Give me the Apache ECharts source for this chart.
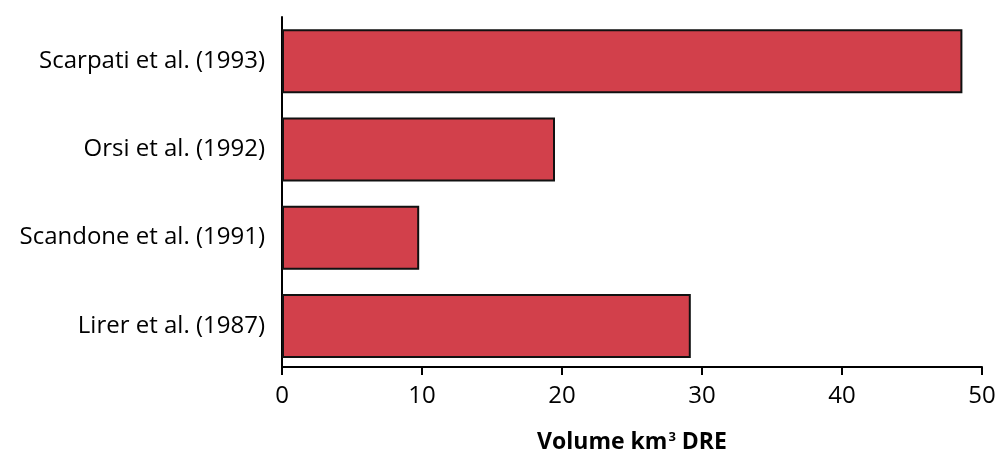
<!DOCTYPE html>
<html>
<head>
<meta charset="utf-8">
<script src="https://cdn.jsdelivr.net/npm/echarts@6/dist/echarts.min.js"></script>
<style>
  html, body { margin: 0; padding: 0; background: #fff; }
  #chart { width: 1003px; height: 459px; }
</style>
</head>
<body>
<div id="chart"></div>
<script>
// Published estimates of the eruption volume (km³ DRE), bottom to top
const studies = ['Lirer et al. (1987)', 'Scandone et al. (1991)', 'Orsi et al. (1992)', 'Scarpati et al. (1993)'];
const volumes = [29.2, 9.8, 19.5, 48.6];
const xTicks = [0, 10, 20, 30, 40, 50];

const FONT = '"Open Sans", "Noto Sans", sans-serif';
const chart = echarts.init(document.getElementById('chart'));

chart.setOption({
  animation: false,
  grid: { left: 282, right: 21, top: 17, height: 353 },
  xAxis: {
    type: 'value',
    min: xTicks[0],
    max: xTicks[xTicks.length - 1],
    interval: xTicks[1] - xTicks[0],
    offset: -3,
    splitLine: { show: false },
    axisLine: { show: true, lineStyle: { color: '#000', width: 2 } },
    axisTick: { show: true, length: 8, lineStyle: { color: '#000', width: 2 } },
    axisLabel: { color: '#000', fontSize: 24, fontFamily: FONT, margin: 17 },
    name: 'Volume km{sup|3} DRE',
    nameLocation: 'middle',
    nameGap: 64,
    nameTextStyle: {
      color: '#000', fontSize: 23, fontWeight: 'bold', fontFamily: FONT,
      rich: {
        sup: { fontSize: 13, fontWeight: 'bold', fontFamily: FONT, color: '#000', verticalAlign: 'top', padding: [0, 0, 9, 1] }
      }
    }
  },
  yAxis: {
    type: 'category',
    data: studies,
    axisLine: { show: true, lineStyle: { color: '#000', width: 2 } },
    axisTick: { show: false },
    axisLabel: { color: '#000', fontSize: 24, fontFamily: FONT, margin: 17 }
  },
  series: [{
    type: 'bar',
    data: volumes,
    barWidth: 64,
    itemStyle: { color: '#D2404B', borderColor: '#111', borderWidth: 2 }
  }]
});
</script>
</body>
</html>
